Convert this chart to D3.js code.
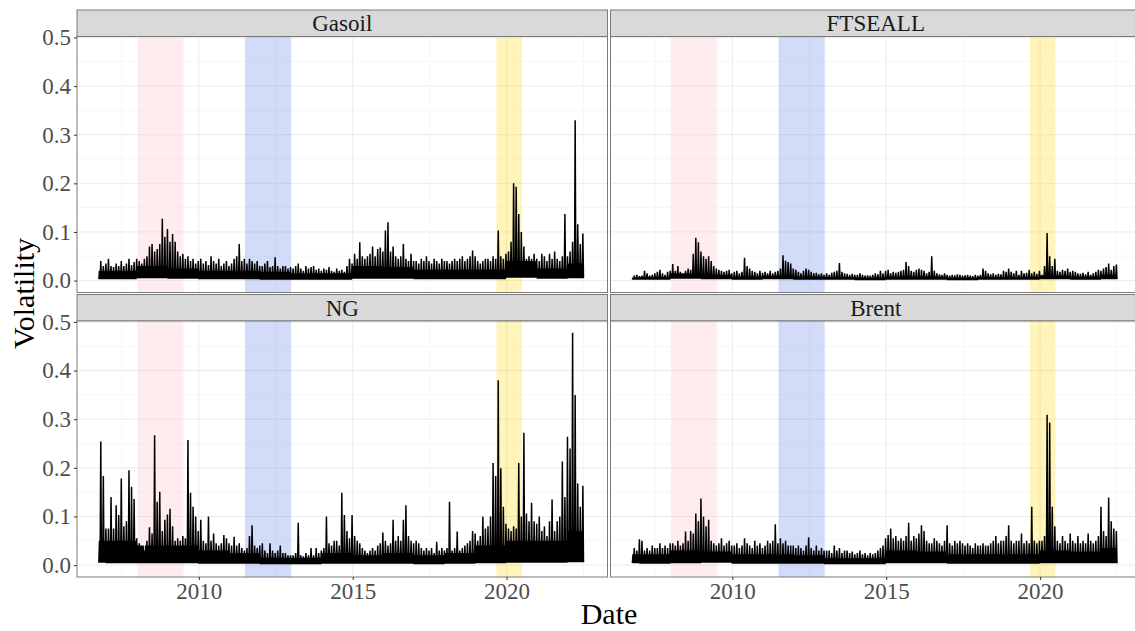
<!DOCTYPE html>
<html>
<head>
<meta charset="utf-8">
<script src="https://cdnjs.cloudflare.com/ajax/libs/d3/7.8.5/d3.min.js"></script>
<style>
  body { margin: 0; background: #fff; }
  text { font-family: "Liberation Serif", "Times New Roman", serif; }
</style>
</head>
<body>
<svg id="chart"></svg>
<script>
// monthly series, first month = Oct 2006, last = Jun 2022
// peak = highest volatility seen in the month
// floor / band = typical trough and typical level of the dense band, per year
var firstMonth = 2006.75;
var years = [2006, 2007, 2008, 2009, 2010, 2011, 2012, 2013, 2014, 2015, 2016, 2017, 2018, 2019, 2020, 2021, 2022];

var gasoilPeak = [
  .04, .03, .035,
  .045, .03, .028, .035, .03, .04, .03, .035, .045, .032, .038, .045,
  .04, .035, .045, .05, .07, .075, .06, .065, .075, .127, .09, .106,
  .08, .096, .08, .06, .05, .055, .045, .05, .04, .045, .035, .04,
  .045, .035, .04, .032, .05, .04, .035, .045, .03, .035, .04, .03,
  .035, .045, .05, .075, .04, .045, .035, .045, .04, .035, .04, .03,
  .03, .035, .04, .028, .03, .048, .03, .025, .03, .03, .025, .028,
  .025, .03, .035, .025, .02, .03, .025, .028, .03, .022, .025, .02,
  .025, .022, .028, .02, .018, .025, .02, .022, .018, .03, .045, .035,
  .055, .045, .079, .05, .045, .05, .055, .07, .05, .065, .068, .06,
  .103, .12, .06, .07, .05, .045, .05, .075, .045, .04, .055, .04,
  .04, .035, .045, .04, .05, .04, .035, .045, .04, .035, .045, .04,
  .04, .035, .04, .045, .04, .045, .05, .04, .045, .05, .062, .05,
  .04, .035, .04, .045, .045, .04, .05, .045, .103, .05, .045, .055,
  .06, .08, .2, .193, .137, .1, .07, .045, .05, .045, .055, .045,
  .04, .055, .05, .04, .055, .045, .06, .045, .04, .05, .137, .05,
  .06, .08, .33, .116, .075, .097
];
var gasoilFloor = [.003, .003, .005, .004, .003, .003, .002, .002, .002, .004, .004, .003, .003, .003, .006, .004, .005];
var gasoilBand = [.02, .02, .03, .025, .02, .02, .018, .015, .015, .03, .028, .022, .022, .022, .04, .025, .035];

var ftseallPeak = [
  .01, .012, .009,
  .01, .02, .015, .01, .012, .015, .018, .022, .015, .012, .018, .02,
  .034, .02, .03, .018, .015, .02, .025, .022, .055, .088, .079, .06,
  .05, .045, .05, .04, .03, .025, .022, .02, .018, .02, .022, .015,
  .018, .02, .015, .018, .047, .03, .025, .02, .018, .015, .02, .016,
  .018, .015, .02, .015, .018, .02, .025, .052, .041, .038, .035, .025,
  .022, .018, .015, .02, .025, .022, .018, .015, .016, .013, .015, .012,
  .015, .012, .016, .018, .02, .036, .018, .015, .014, .012, .014, .012,
  .012, .015, .012, .01, .011, .01, .012, .015, .013, .02, .015, .02,
  .022, .015, .018, .016, .018, .02, .022, .038, .03, .02, .018, .022,
  .025, .022, .02, .015, .018, .05, .02, .015, .013, .012, .015, .012,
  .01, .012, .011, .013, .012, .01, .011, .012, .01, .009, .012, .01,
  .012, .025, .02, .015, .013, .015, .012, .014, .013, .02, .018, .025,
  .018, .015, .02, .012, .02, .015, .016, .022, .015, .018, .014, .02,
  .012, .03, .098, .05, .03, .045, .02, .018, .022, .02, .025, .018,
  .02, .018, .015, .014, .016, .013, .018, .012, .015, .018, .022, .02,
  .025, .028, .035, .022, .03, .033
];
var ftseallFloor = [.002, .002, .004, .003, .002, .003, .002, .002, .001, .002, .002, .001, .002, .002, .003, .002, .003];
var ftseallBand = [.006, .007, .015, .012, .008, .01, .008, .007, .006, .008, .008, .006, .007, .007, .01, .008, .012];

var ngPeak = [
  .254, .183, .075,
  .075, .14, .075, .123, .103, .178, .08, .09, .195, .161, .136, .055,
  .045, .04, .03, .05, .078, .065, .267, .13, .151, .07, .093, .104,
  .116, .08, .05, .055, .05, .06, .055, .257, .149, .12, .1, .07,
  .093, .05, .045, .1, .05, .065, .045, .04, .045, .062, .055, .045,
  .04, .058, .04, .045, .035, .03, .035, .06, .082, .04, .035, .04,
  .045, .03, .025, .045, .03, .025, .03, .04, .025, .025, .02, .02,
  .02, .025, .087, .02, .018, .025, .02, .035, .02, .035, .025, .03,
  .035, .1, .045, .04, .05, .05, .04, .149, .103, .07, .055, .103,
  .06, .05, .045, .035, .03, .025, .03, .035, .03, .04, .045, .067,
  .05, .04, .045, .093, .05, .06, .05, .093, .123, .06, .05, .045,
  .05, .045, .035, .03, .035, .03, .035, .025, .048, .03, .035, .03,
  .035, .13, .03, .035, .069, .03, .035, .04, .045, .05, .07, .065,
  .05, .06, .1, .075, .08, .1, .21, .183, .38, .199, .12, .085,
  .075, .07, .08, .075, .21, .1, .272, .106, .09, .128, .09, .085,
  .1, .07, .08, .06, .09, .135, .07, .09, .1, .213, .14, .264,
  .24, .478, .35, .168, .12, .163
];
var ngFloor = [.005, .004, .004, .004, .003, .003, .002, .002, .003, .003, .003, .002, .003, .004, .005, .005, .006];
var ngBand = [.05, .05, .04, .04, .03, .025, .015, .015, .025, .02, .025, .02, .025, .04, .05, .05, .07];

var brentPeak = [
  .035, .03, .053,
  .05, .03, .035, .03, .04, .035, .035, .045, .035, .04, .035, .045,
  .045, .04, .05, .04, .045, .069, .05, .07, .065, .106, .09, .137,
  .1, .08, .093, .05, .045, .04, .045, .055, .04, .045, .05, .04,
  .04, .045, .035, .04, .055, .045, .04, .035, .05, .04, .045, .035,
  .04, .05, .045, .05, .084, .045, .055, .045, .05, .04, .04, .04,
  .035, .04, .035, .03, .04, .057, .035, .03, .04, .03, .035, .03,
  .03, .03, .025, .04, .03, .035, .025, .03, .03, .025, .028, .022,
  .025, .03, .022, .025, .02, .025, .022, .025, .03, .035, .04, .055,
  .062, .075, .055, .06, .05, .055, .05, .06, .087, .05, .06, .055,
  .065, .082, .07, .05, .045, .045, .055, .05, .045, .04, .05, .082,
  .045, .04, .05, .045, .05, .045, .04, .045, .04, .035, .045, .04,
  .04, .045, .04, .04, .045, .05, .06, .045, .05, .05, .06, .082,
  .05, .045, .05, .05, .065, .045, .05, .045, .12, .05, .045, .05,
  .05, .06, .309, .293, .12, .08, .05, .045, .06, .05, .045, .065,
  .05, .045, .06, .045, .05, .045, .065, .05, .045, .05, .06, .12,
  .07, .06, .139, .09, .075, .07
];
var brentFloor = [.004, .003, .004, .005, .003, .003, .003, .002, .002, .004, .004, .003, .003, .003, .004, .004, .004];
var brentBand = [.022, .022, .03, .028, .022, .022, .02, .014, .014, .03, .028, .022, .022, .022, .03, .028, .035];

var panelNames = ["Gasoil", "FTSEALL", "NG", "Brent"];
var yTicks = [0, 0.1, 0.2, 0.3, 0.4, 0.5];
var yMinor = [0.05, 0.15, 0.25, 0.35, 0.45];
var xTicks = [2010, 2015, 2020];
var xMinor = [2007.5, 2012.5, 2017.5, 2022.5];
// shaded episodes [start, end] in decimal years
var episodes = [[2008.0, 2009.5], [2011.5, 2013.0], [2019.67, 2020.5]];
var episodeColors = ["#ffc0cb", "#4169e1", "#ffd700"];
var episodeOpacity = [0.3, 0.24, 0.27];

var width = 1135, height = 631;
var panelW = 530.5, panelH = 256, stripH = 26.5;
var colX = [77, 610.5];
var rowY = [10, 294.5];   // top of each strip

var svg = d3.select("#chart").attr("width", width).attr("height", height);

var x = d3.scaleLinear().domain([2006.04, 2023.28]).range([0, panelW]);
var y = d3.scaleLinear().domain([-0.0245, 0.502]).range([panelH, 0]);

// each month: trough, band level, trough, monthly peak
function buildSeries(peak, floor, band) {
  var pts = [];
  peak.forEach(function(p, m) {
    var t = firstMonth + m / 12;
    var k = Math.floor(t + 1e-6) - years[0];
    pts.push([t, floor[k]]);
    pts.push([t + 1 / 48, band[k]]);
    pts.push([t + 2 / 48, floor[k]]);
    pts.push([t + 3 / 48, p]);
  });
  pts.push([firstMonth + peak.length / 12, floor[floor.length - 1]]);
  return pts;
}

var seriesList = [
  buildSeries(gasoilPeak, gasoilFloor, gasoilBand),
  buildSeries(ftseallPeak, ftseallFloor, ftseallBand),
  buildSeries(ngPeak, ngFloor, ngBand),
  buildSeries(brentPeak, brentFloor, brentBand)
];

var line = d3.line()
  .x(function(d) { return x(d[0]); })
  .y(function(d) { return y(d[1]); });

panelNames.forEach(function(name, i) {
  var col = i % 2, row = Math.floor(i / 2);
  var px = colX[col], py = rowY[row] + stripH;

  // strip
  var strip = svg.append("g").attr("transform", "translate(" + px + "," + rowY[row] + ")");
  strip.append("rect")
    .attr("width", panelW).attr("height", stripH)
    .attr("fill", "#d9d9d9").attr("stroke", "#7a7a7a").attr("stroke-width", 1);
  strip.append("text")
    .attr("x", panelW / 2).attr("y", stripH / 2 + 8)
    .attr("text-anchor", "middle")
    .attr("font-size", "23px").attr("fill", "#1a1a1a")
    .text(name);

  var g = svg.append("g").attr("transform", "translate(" + px + "," + py + ")");
  g.append("rect").attr("width", panelW).attr("height", panelH).attr("fill", "#fff");

  // grid
  g.selectAll(".ymin").data(yMinor).enter().append("line")
    .attr("x1", 0).attr("x2", panelW)
    .attr("y1", function(d) { return y(d); }).attr("y2", function(d) { return y(d); })
    .attr("stroke", "#f2f2f2").attr("stroke-width", 0.6);
  g.selectAll(".xmin").data(xMinor).enter().append("line")
    .attr("y1", 0).attr("y2", panelH)
    .attr("x1", function(d) { return x(d); }).attr("x2", function(d) { return x(d); })
    .attr("stroke", "#f2f2f2").attr("stroke-width", 0.6);
  g.selectAll(".ymaj").data(yTicks).enter().append("line")
    .attr("x1", 0).attr("x2", panelW)
    .attr("y1", function(d) { return y(d); }).attr("y2", function(d) { return y(d); })
    .attr("stroke", "#ebebeb").attr("stroke-width", 1);
  g.selectAll(".xmaj").data(xTicks).enter().append("line")
    .attr("y1", 0).attr("y2", panelH)
    .attr("x1", function(d) { return x(d); }).attr("x2", function(d) { return x(d); })
    .attr("stroke", "#ebebeb").attr("stroke-width", 1);

  // shaded periods
  g.selectAll(".episode").data(episodes).enter().append("rect")
    .attr("x", function(d) { return x(d[0]); })
    .attr("width", function(d) { return x(d[1]) - x(d[0]); })
    .attr("y", 0).attr("height", panelH)
    .attr("fill", function(d, j) { return episodeColors[j]; })
    .attr("fill-opacity", function(d, j) { return episodeOpacity[j]; });

  // volatility line
  g.append("path")
    .datum(seriesList[i])
    .attr("fill", "none")
    .attr("stroke", "#000")
    .attr("stroke-width", 1.5)
    .attr("stroke-linejoin", "bevel")
    .attr("d", line);

  g.append("rect").attr("width", panelW).attr("height", panelH)
    .attr("fill", "none").attr("stroke", "#7a7a7a").attr("stroke-width", 1);

  // axes
  if (col === 0) {
    var ya = g.append("g")
      .call(d3.axisLeft(y).tickValues(yTicks).tickFormat(d3.format(".1f")).tickSize(3).tickPadding(3));
    ya.select(".domain").remove();
    ya.selectAll("line").attr("stroke", "#333");
    ya.selectAll("text").attr("font-size", "23px").attr("fill", "#4d4d4d")
      .attr("font-family", "Liberation Serif, Times New Roman, serif");
  }
  if (row === 1) {
    var xa = g.append("g").attr("transform", "translate(0," + panelH + ")")
      .call(d3.axisBottom(x).tickValues(xTicks).tickFormat(d3.format("d")).tickSize(3).tickPadding(3));
    xa.select(".domain").remove();
    xa.selectAll("line").attr("stroke", "#333");
    xa.selectAll("text").attr("font-size", "23px").attr("fill", "#4d4d4d")
      .attr("font-family", "Liberation Serif, Times New Roman, serif");
  }
});

// axis titles
svg.append("text")
  .attr("x", (colX[0] + colX[1] + panelW) / 2).attr("y", 624)
  .attr("text-anchor", "middle").attr("font-size", "30px").attr("fill", "#000")
  .text("Date");
svg.append("text")
  .attr("transform", "translate(34," + (rowY[0] + rowY[1] + stripH + panelH) / 2 + ") rotate(-90)")
  .attr("text-anchor", "middle").attr("font-size", "30px").attr("fill", "#000")
  .text("Volatility");
</script>
</body>
</html>
